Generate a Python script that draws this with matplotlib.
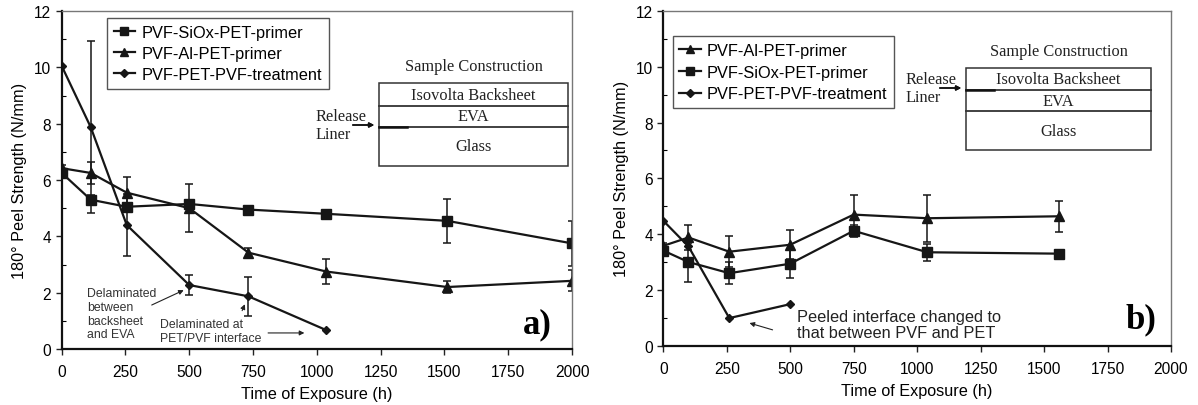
import matplotlib.pyplot as plt
from matplotlib.patches import Rectangle
from matplotlib.lines import Line2D

plt.rcParams["font.family"] = ["Liberation Sans", "DejaVu Sans"]

W, H = 1198, 406

# ---- panel a) data ----
a_siox_t = [0, 114, 255, 500, 732, 1037, 1511, 2000]
a_siox_y = [6.25, 5.3, 5.05, 5.15, 4.95, 4.8, 4.55, 3.75]
a_siox_e = [0.1, 0.15, 0.1, 0.1, 0.1, 0.1, 0.78, 0.8]

a_al_t = [0, 114, 255, 500, 732, 1037, 1511, 2000]
a_al_y = [6.42, 6.25, 5.55, 5.0, 3.42, 2.75, 2.2, 2.42]
a_al_e = [0.1, 0.38, 0.55, 0.85, 0.15, 0.45, 0.2, 0.37]

a_pvf_t = [0, 114, 255, 500, 732, 1037]
a_pvf_y = [10.05, 7.87, 4.4, 2.27, 1.87, 0.67]
a_pvf_e = [0, 3.05, 1.1, 0.35, 0.7, 0]

# ---- panel b) data ----
b_al_t = [0, 99, 260, 500, 750, 1040, 1559]
b_al_y = [3.58, 3.88, 3.37, 3.62, 4.7, 4.57, 4.64]
b_al_e = [0.1, 0.45, 0.55, 0.52, 0.7, 0.85, 0.55]

b_siox_t = [0, 99, 260, 500, 750, 1040, 1559]
b_siox_y = [3.41, 3.0, 2.6, 2.94, 4.12, 3.35, 3.3]
b_siox_e = [0.1, 0.7, 0.4, 0.52, 0.22, 0.3, 0.08]

b_pvf_t = [0, 99, 260, 500]
b_pvf_y = [4.48, 3.56, 0.99, 1.49]

xticks = [0, 250, 500, 750, 1000, 1250, 1500, 1750, 2000]
yticks = [0, 2, 4, 6, 8, 10, 12]

INK = "#161616"
MARK = {"siox": ("s", 6.5), "al": ("^", 6.5), "pvf": ("D", 4.5)}
NAMES = {"siox": "PVF-SiOx-PET-primer", "al": "PVF-Al-PET-primer",
         "pvf": "PVF-PET-PVF-treatment"}
SERIF = ["Liberation Serif", "DejaVu Serif"]


def fpx(x, y):
    # figure pixel -> figure fraction
    return x / W, 1 - y / H


def series(ax, t, y, e, key):
    m, ms = MARK[key]
    ax.errorbar(t, y, yerr=e, color=INK, lw=1.6, marker=m, ms=ms,
                capsize=3, elinewidth=1.1, capthick=1.1)


def legend(ax, keys, anchor, spacing):
    handles = [Line2D([], [], color=INK, lw=1.6, marker=MARK[k][0], ms=MARK[k][1] * 0.85)
               for k in keys]
    leg = ax.legend(handles, [NAMES[k] for k in keys], loc="upper left",
                    bbox_to_anchor=anchor, borderaxespad=0, fontsize=11.8,
                    fancybox=False, edgecolor="#555555", framealpha=1,
                    handlelength=1.3, handletextpad=0.4, borderpad=0.4,
                    labelspacing=spacing)
    leg.get_frame().set_linewidth(1.0)


def style_axes(ax):
    ax.set_xlim(0, 2000)
    ax.set_ylim(0, 12)
    ax.set_xticks(xticks)
    ax.set_yticks(yticks)
    ax.set_yticks(range(1, 12, 2), minor=True)
    ax.tick_params(axis="both", which="major", direction="out", length=4,
                   width=1, labelsize=11.2, color="#222222")
    ax.tick_params(axis="y", which="minor", direction="in", length=3, width=0.8)
    ax.tick_params(axis="x", pad=7)
    for s in ("left", "bottom"):
        ax.spines[s].set_linewidth(1.6)
        ax.spines[s].set_color("#111111")
    for s in ("top", "right"):
        ax.spines[s].set_linewidth(1.0)
        ax.spines[s].set_color("#777777")
    ax.set_xlabel("Time of Exposure (h)", fontsize=11.7, labelpad=5)
    ax.set_ylabel("180° Peel Strength (N/mm)", fontsize=11.7, labelpad=5)


def inset(fig, box, lines, liner_y, rel):
    # box = (x0, y0, x1, y1) in figure pixels, lines = divider y's
    x0, y0, x1, y1 = box
    fx0, fy1 = fpx(x0, y1)
    fx1, fy0 = fpx(x1, y0)
    fig.patches.append(Rectangle((fx0, fy1), fx1 - fx0, fy0 - fy1,
                                 transform=fig.transFigure, fill=False,
                                 ec="#333333", lw=1.1))
    for ly in lines:
        fig.add_artist(Line2D([fx0, fx1], [1 - ly / H] * 2,
                              transform=fig.transFigure, color="#333333", lw=1.3))
    serif = dict(family=SERIF, fontsize=11.8, ha="center", va="center", color="#222222")
    cx = (x0 + x1) / 2
    fig.text(*fpx(cx, y0 - 17), "Sample Construction", **serif)
    tops = [y0] + list(lines)
    bots = list(lines) + [y1]
    for name, a, b in zip(["Isovolta Backsheet", "EVA", "Glass"], tops, bots):
        fig.text(*fpx(cx, (a + b) / 2), name, **serif)
    # release liner
    fig.add_artist(Line2D([fx0, (x0 + 28) / W], [1 - liner_y / H] * 2,
                          transform=fig.transFigure, color="#111111", lw=1.8))
    rx, ry = rel
    fig.text(*fpx(rx, ry), "Release\nLiner", family=SERIF, fontsize=11.8,
             ha="left", va="center", linespacing=1.15, color="#222222")
    fig.add_artist(plt.annotate("", xy=fpx(x0 - 2, liner_y - 2),
                                xytext=fpx(x0 - 29, liner_y - 2),
                                xycoords=fig.transFigure, textcoords=fig.transFigure,
                                arrowprops=dict(arrowstyle="-|>", lw=1.1, color="#111111",
                                                mutation_scale=7)))


fig = plt.figure(figsize=(W / 100, H / 100), dpi=100)
ax1 = fig.add_axes([61.7 / W, 56 / H, 510.3 / W, 338 / H])
ax2 = fig.add_axes([663.3 / W, 59.3 / H, 507.7 / W, 334.7 / H])

# panel a
series(ax1, a_siox_t, a_siox_y, a_siox_e, "siox")
series(ax1, a_al_t, a_al_y, a_al_e, "al")
series(ax1, a_pvf_t, a_pvf_y, a_pvf_e, "pvf")
style_axes(ax1)
legend(ax1, ["siox", "al", "pvf"], (0.089, 0.979), 0.38)

arrow = dict(arrowstyle="-|>", lw=0.8, color="#222222", mutation_scale=7)
ax1.text(100, 1.25, "Delaminated\nbetween\nbacksheet\nand EVA", fontsize=8.8,
         ha="left", va="center", linespacing=1.2, color="#333333")
ax1.annotate("", xy=(488, 2.13), xytext=(343, 1.52), arrowprops=arrow)
ax1.text(386, 0.64, "Delaminated at\nPET/PVF interface", fontsize=8.8,
         ha="left", va="center", linespacing=1.2, color="#333333")
ax1.annotate("", xy=(722, 1.68), xytext=(703, 1.27), arrowprops=arrow)
ax1.annotate("", xy=(962, 0.57), xytext=(798, 0.57), arrowprops=arrow)
ax1.text(0.933, 0.05, "a)", transform=ax1.transAxes, fontsize=25, fontweight="bold",
         family=SERIF, ha="center", va="baseline")

# panel b
series(ax2, b_al_t, b_al_y, b_al_e, "al")
series(ax2, b_siox_t, b_siox_y, b_siox_e, "siox")
ax2.plot(b_pvf_t, b_pvf_y, color=INK, lw=1.6, marker="D", ms=4.5)
style_axes(ax2)
legend(ax2, ["al", "siox", "pvf"], (0.0185, 0.925), 0.42)

ax2.text(528, 0.76, "Peeled interface changed to\nthat between PVF and PET", fontsize=11.8,
         ha="left", va="center", linespacing=1.15, color="#222222")
ax2.annotate("", xy=(329, 0.84), xytext=(441, 0.54), arrowprops=arrow)
ax2.text(0.941, 0.056, "b)", transform=ax2.transAxes, fontsize=25, fontweight="bold",
         family=SERIF, ha="center", va="baseline")

# sample construction insets
inset(fig, (379, 84, 568, 167), [107, 128], 128, (316, 126))
inset(fig, (966, 69, 1151, 151), [91, 112], 91, (906, 89))

fig.savefig("out.png", dpi=100)
